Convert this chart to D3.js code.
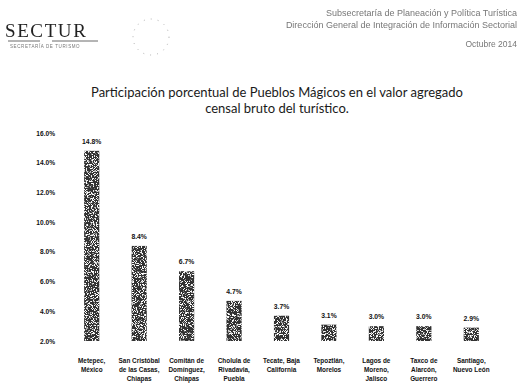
<!DOCTYPE html>
<html>
<head>
<meta charset="utf-8">
<script src="https://cdn.jsdelivr.net/npm/d3@7/dist/d3.min.js"></script>
<style>
  html, body { margin: 0; padding: 0; background: #fff; }
  svg { display: block; }
</style>
</head>
<body>
<svg id="chart" width="520" height="383"></svg>
<script>
// Pueblos Mágicos: share of gross census value added in tourism (%)
const categories = [
  ["Metepec,", "México"],
  ["San Cristóbal", "de las Casas,", "Chiapas"],
  ["Comitán de", "Domínguez,", "Chiapas"],
  ["Cholula de", "Rivadavia,", "Puebla"],
  ["Tecate, Baja", "California"],
  ["Tepoztlán,", "Morelos"],
  ["Lagos de", "Moreno,", "Jalisco"],
  ["Taxco de", "Alarcón,", "Guerrero"],
  ["Santiago,", "Nuevo León"]
];
const values = [14.8, 8.4, 6.7, 4.7, 3.7, 3.1, 3.0, 3.0, 2.9];
const yTicks = [2, 4, 6, 8, 10, 12, 14, 16];
const titleLines = [
  "Participación porcentual de Pueblos Mágicos en el valor agregado",
  "censal bruto del turístico."
];
const headerLines = [
  "Subsecretaría de Planeación y Política Turística",
  "Dirección General de Integración de Información Sectorial"
];
const headerDate = "Octubre 2014";

const svg = d3.select("#chart");
const defs = svg.append("defs");

// grainy print texture for the bars
const grain = defs.append("filter").attr("id", "grain")
  .attr("x", 0).attr("y", 0).attr("width", 1).attr("height", 1);
grain.append("feTurbulence").attr("type", "fractalNoise")
  .attr("baseFrequency", 1.1).attr("numOctaves", 2).attr("seed", 7).attr("result", "noise");
grain.append("feColorMatrix").attr("in", "noise").attr("type", "matrix")
  .attr("values", "0 0 0 0 1  0 0 0 0 1  0 0 0 0 1  10 0 0 0 -5.3").attr("result", "speck");
grain.append("feComposite").attr("in", "speck").attr("in2", "SourceGraphic")
  .attr("operator", "in").attr("result", "speckIn");
const merge = grain.append("feMerge");
merge.append("feMergeNode").attr("in", "SourceGraphic");
merge.append("feMergeNode").attr("in", "speckIn");

const soft = defs.append("filter").attr("id", "soft");
soft.append("feGaussianBlur").attr("stdDeviation", 0.35);

// ---- letterhead ----
const head = svg.append("g").attr("filter", "url(#soft)");
head.append("text")
  .attr("x", 5).attr("y", 37)
  .attr("font-family", "'Liberation Serif', 'DejaVu Serif', serif")
  .attr("font-size", 19).attr("letter-spacing", 1.6).attr("fill", "#222")
  .text("SECTUR");
head.append("line").attr("x1", 8).attr("x2", 40).attr("y1", 41).attr("y2", 41)
  .attr("stroke", "#444").attr("stroke-width", 0.8);
head.append("line").attr("x1", 52).attr("x2", 98).attr("y1", 41).attr("y2", 41)
  .attr("stroke", "#444").attr("stroke-width", 0.8);
head.append("text")
  .attr("x", 10).attr("y", 48)
  .attr("font-family", "'Liberation Sans', Arial, sans-serif")
  .attr("font-size", 4.5).attr("letter-spacing", 0.6).attr("fill", "#777")
  .text("SECRETARÍA DE TURISMO");
head.append("circle").attr("cx", 151).attr("cy", 37).attr("r", 18)
  .attr("fill", "none").attr("stroke", "#aaa").attr("stroke-width", 1)
  .attr("stroke-dasharray", "1 6");

head.selectAll("text.hdr")
  .data(headerLines)
  .join("text")
  .attr("class", "hdr")
  .attr("x", 517).attr("y", (d, i) => 16 + i * 12)
  .attr("text-anchor", "end")
  .attr("font-family", "'Liberation Sans', Arial, sans-serif")
  .attr("font-size", 9).attr("fill", "#777")
  .text(d => d);
head.append("text")
  .attr("x", 517).attr("y", 47)
  .attr("text-anchor", "end")
  .attr("font-family", "'Liberation Sans', Arial, sans-serif")
  .attr("font-size", 8.5).attr("fill", "#777")
  .text(headerDate);

// ---- title ----
svg.append("g").selectAll("text")
  .data(titleLines)
  .join("text")
  .attr("x", 277).attr("y", (d, i) => 97 + i * 16)
  .attr("text-anchor", "middle")
  .attr("font-family", "Lato, 'Open Sans', sans-serif")
  .attr("font-size", 13).attr("fill", "#1a1a1a")
  .text(d => d);

// ---- scales ----
const x = d3.scaleBand()
  .domain(d3.range(values.length))
  .range([68, 495])
  .paddingInner(0.68).paddingOuter(0.34);

const y = d3.scaleLinear().domain([2, 16]).range([341, 133]);

// y axis labels only (no line, no ticks)
const yAxis = d3.axisLeft(y)
  .tickValues(yTicks)
  .tickSize(0).tickPadding(0)
  .tickFormat(d => d3.format(".1f")(d) + "%");
const gy = svg.append("g").attr("transform", "translate(55,0)").call(yAxis);
gy.select(".domain").remove();
gy.selectAll("text")
  .attr("font-family", "'Liberation Sans', Arial, sans-serif")
  .attr("font-weight", "bold").attr("font-size", 6.6).attr("fill", "#111");

// bars
svg.append("g").selectAll("rect")
  .data(values)
  .join("rect")
  .attr("x", (d, i) => x(i))
  .attr("y", d => y(d))
  .attr("width", x.bandwidth())
  .attr("height", d => y(2) - y(d))
  .attr("fill", "#333")
  .attr("filter", "url(#grain)");

// value labels
svg.append("g").selectAll("text")
  .data(values)
  .join("text")
  .attr("x", (d, i) => x(i) + x.bandwidth() / 2)
  .attr("y", d => y(d) - 7)
  .attr("text-anchor", "middle")
  .attr("font-family", "'Liberation Sans', Arial, sans-serif")
  .attr("font-weight", "bold").attr("font-size", 6.8).attr("fill", "#111")
  .text(d => d3.format(".1f")(d) + "%");

// category labels
const cat = svg.append("g").selectAll("text")
  .data(categories)
  .join("text")
  .attr("x", (d, i) => x(i) + x.bandwidth() / 2)
  .attr("y", 363)
  .attr("text-anchor", "middle")
  .attr("font-family", "'Liberation Sans', Arial, sans-serif")
  .attr("font-weight", "bold").attr("font-size", 6.4).attr("fill", "#111");
cat.selectAll("tspan")
  .data(d => d)
  .join("tspan")
  .attr("x", function () { return d3.select(this.parentNode).attr("x"); })
  .attr("dy", (d, i) => i === 0 ? 0 : 8.8)
  .text(d => d);
</script>
</body>
</html>
